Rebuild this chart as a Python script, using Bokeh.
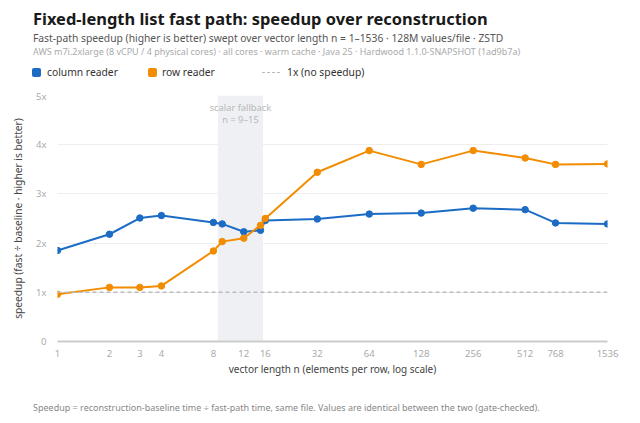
import math
from bokeh.plotting import figure
from bokeh.layouts import column
from bokeh.models import (Span, BoxAnnotation, Label, Div,
                          FixedTicker, NumeralTickFormatter, Range1d)
from bokeh.embed import file_html
from bokeh.resources import INLINE

# ---- data ----
n_values = [1, 2, 3, 4, 8, 9, 12, 15, 16, 32, 64, 128, 256, 512, 768, 1536]
column_reader = [1.85, 2.18, 2.51, 2.56, 2.42, 2.39, 2.23, 2.26, 2.46, 2.49,
                 2.59, 2.61, 2.71, 2.68, 2.41, 2.39]
row_reader = [0.96, 1.10, 1.10, 1.13, 1.84, 2.03, 2.10, 2.36, 2.50, 3.44,
              3.88, 3.60, 3.88, 3.73, 3.60, 3.61]
x_ticks = [1, 2, 3, 4, 8, 12, 16, 32, 64, 128, 256, 512, 768, 1536]
y_ticks = [0, 1, 2, 3, 4, 5]
y_tick_labels = ["0", "1x", "2x", "3x", "4x", "5x"]
baseline_speedup = 1.0
fallback_lo, fallback_hi = 8.5, 15.5
fallback_text = ["scalar fallback", "n = 9\u201315"]
series_names = ["column reader", "row reader"]
baseline_name = "1x (no speedup)"

title_text = "Fixed-length list fast path: speedup over reconstruction"
subtitle_text = ("Fast-path speedup (higher is better) swept over vector length "
                 "n = 1\u20131536 \u00b7 128M values/file \u00b7 ZSTD")
meta_text = ("AWS m7i.2xlarge (8 vCPU / 4 physical cores) \u00b7 all cores \u00b7 "
             "warm cache \u00b7 Java 25 \u00b7 Hardwood 1.1.0-SNAPSHOT (1ad9b7a)")
footer_text = ("Speedup = reconstruction-baseline time \u00f7 fast-path time, same file. "
               "Values are identical between the two (gate-checked).")

BLUE = "#1c6cc6"
ORANGE = "#f28c00"
FONT = "Noto Sans"
W = 640
HEADER_H = 89
PLOT_H = 290
FOOTER_H = 423 - HEADER_H - PLOT_H


def txt(s, left, top, size, color, weight="normal"):
    return (f'<span style="position:absolute;left:{left}px;top:{top}px;white-space:nowrap;'
            f'font-family:\'{FONT}\';font-size:{size}px;line-height:1;font-weight:{weight};'
            f'color:{color};">{s}</span>')


def swatch(left, color):
    return (f'<span style="position:absolute;left:{left}px;top:67.5px;width:9px;height:9px;'
            f'border-radius:2px;background:{color};"></span>')


header_html = (
    f'<div style="position:relative;width:{W}px;height:{HEADER_H}px;background:white;">'
    + txt(title_text, 33, 11, 16.45, "#1a1a1a", "bold")
    + txt(subtitle_text, 33, 32.5, 10.3, "#555555")
    + txt(meta_text, 33, 46.8, 9.0, "#aaaaaa")
    + swatch(32, BLUE) + txt(series_names[0], 47, 66.8, 10.3, "#333333")
    + swatch(148, ORANGE) + txt(series_names[1], 162, 66.8, 10.3, "#333333")
    + '<span style="position:absolute;left:262px;top:71.5px;width:18px;height:0;'
      'border-top:1.5px dashed #bbbbbb;"></span>'
    + txt(baseline_name, 287, 66.8, 10.3, "#333333")
    + '</div>'
)
header = Div(text=header_html, width=W, height=HEADER_H, margin=0)

footer_html = (
    f'<div style="position:relative;width:{W}px;height:{FOOTER_H}px;background:white;">'
    + txt(footer_text, 33, 24, 9.0, "#888888")
    + '</div>'
)
footer = Div(text=footer_html, width=W, height=FOOTER_H, margin=0)

# ---------------- main chart ----------------
p = figure(width=W, height=PLOT_H, x_axis_type="log",
           x_range=Range1d(1, 1536), y_range=Range1d(0, 5),
           output_backend="svg", toolbar_location=None,
           min_border_left=57, min_border_right=33,
           min_border_top=6, min_border_bottom=38, margin=0)
p.outline_line_color = None
p.background_fill_color = "white"
p.border_fill_color = "white"

p.add_layout(BoxAnnotation(left=fallback_lo, right=fallback_hi,
                           fill_color="#eef0f3", fill_alpha=1.0, line_color=None,
                           level="underlay"))
band_center = math.sqrt(fallback_lo * fallback_hi)
for i, t in enumerate(fallback_text):
    p.add_layout(Label(x=band_center, y=5, y_offset=-12 - 11.5 * i, text=t,
                       text_align="center", text_baseline="middle", text_font=FONT,
                       text_font_size="9.3px", text_color="#b8b8b8"))

p.add_layout(Span(location=baseline_speedup, dimension="width",
                  line_color="#bbbbbb", line_dash="4 3", line_width=1.5))

p.line(n_values, column_reader, line_color=BLUE, line_width=2)
p.scatter(n_values, column_reader, size=6.5, fill_color=BLUE, line_color=BLUE)
p.line(n_values, row_reader, line_color=ORANGE, line_width=2)
p.scatter(n_values, row_reader, size=6.5, fill_color=ORANGE, line_color=ORANGE)

p.xaxis.ticker = FixedTicker(ticks=x_ticks)
p.xaxis.formatter = NumeralTickFormatter(format="0")
p.xaxis.minor_tick_line_color = None
p.xaxis.major_tick_line_color = None
p.xaxis.axis_line_color = "#cccccc"
p.xaxis.axis_line_width = 2
p.xaxis.major_label_text_font = FONT
p.xaxis.major_label_text_font_size = "9.5px"
p.xaxis.major_label_text_color = "#aaaaaa"
p.xaxis.major_label_standoff = 2
p.xaxis.axis_label = "vector length n (elements per row, log scale)"
p.xaxis.axis_label_text_font = FONT
p.xaxis.axis_label_text_font_size = "10px"
p.xaxis.axis_label_text_font_style = "normal"
p.xaxis.axis_label_text_color = "#444444"
p.xaxis.axis_label_standoff = 2

p.yaxis.ticker = FixedTicker(ticks=y_ticks)
p.yaxis.major_label_overrides = {t: l for t, l in zip(y_ticks, y_tick_labels)}
p.yaxis.minor_tick_line_color = None
p.yaxis.major_tick_line_color = None
p.yaxis.axis_line_color = None
p.yaxis.major_label_text_font = FONT
p.yaxis.major_label_text_font_size = "9.5px"
p.yaxis.major_label_text_color = "#aaaaaa"
p.yaxis.major_label_standoff = 5
p.yaxis.axis_label = "speedup (fast \u00f7 baseline \u00b7 higher is better)"
p.yaxis.axis_label_text_font = FONT
p.yaxis.axis_label_text_font_size = "10.2px"
p.yaxis.axis_label_text_font_style = "normal"
p.yaxis.axis_label_text_color = "#484848"
p.yaxis.axis_label_standoff = 8

p.xgrid.grid_line_color = None
p.ygrid.grid_line_color = "#eeeeee"
p.ygrid.grid_line_width = 1

layout = column(header, p, footer, spacing=0, margin=0)
open("out.html", "w").write(file_html(layout, INLINE))
